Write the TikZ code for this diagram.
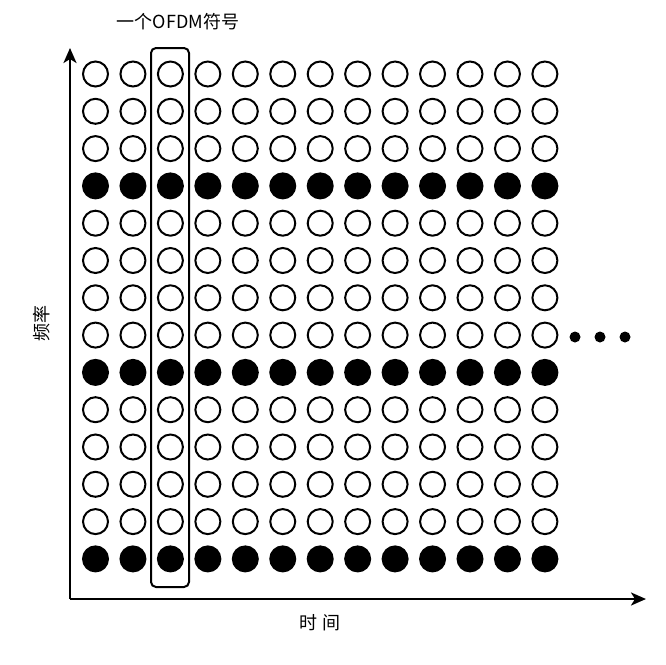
\documentclass[tikz,border=0pt]{standalone}
\usepackage{fontspec}
\setmainfont{Noto Sans CJK SC}
\usetikzlibrary{arrows.meta}
\tikzset{
  hollow/.style={circle,draw=black,line width=2pt,fill=white,minimum size=25pt,inner sep=0pt},
  solid/.style={circle,draw=black,line width=2pt,fill=black,minimum size=25pt,inner sep=0pt},
  dotc/.style={circle,fill=black,minimum size=11pt,inner sep=0pt},
  axis/.style={line width=2.5pt,-{Stealth[length=15pt,width=13pt,inset=4pt]}},
  lbl/.style={font=\fontsize{18pt}{20pt}\selectfont,inner sep=0pt}
}
\begin{document}
\begin{tikzpicture}[x=1pt,y=-1pt]
\useasboundingbox (0,0) rectangle (666,664);
\fill[white] (0,0) rectangle (666,664);
\foreach \c in {0,...,12}{
  \foreach \r in {0,...,13}{
    \pgfmathtruncatemacro{\isf}{(\r==3 || \r==8 || \r==13) ? 1 : 0}
    \ifnum\isf=1
      \node[solid] (c\c r\r) at ({95.5+37.45*\c},{74+37.3*\r}) {};
    \else
      \node[hollow] (c\c r\r) at ({95.5+37.45*\c},{74+37.3*\r}) {};
    \fi
  }
}
\draw[line width=2pt,rounded corners=5pt] (151,48) rectangle (189,587);
\node[lbl] (sym) at (178,22) {一个OFDM符号};
\coordinate (o) at (70,599);
\coordinate (ytop) at (70,48);
\coordinate (xend) at (646,599);
\draw[axis] (o) -- (ytop);
\draw[axis] (o) -- (xend);
\node[dotc] (d1) at (575,337) {};
\node[dotc] (d2) at (600,337) {};
\node[dotc] (d3) at (625,337) {};
\node[lbl,rotate=90] (freq) at (42,323) {频率};
\node[lbl] (time) at (320,623) {时 间};
\end{tikzpicture}
\end{document}
